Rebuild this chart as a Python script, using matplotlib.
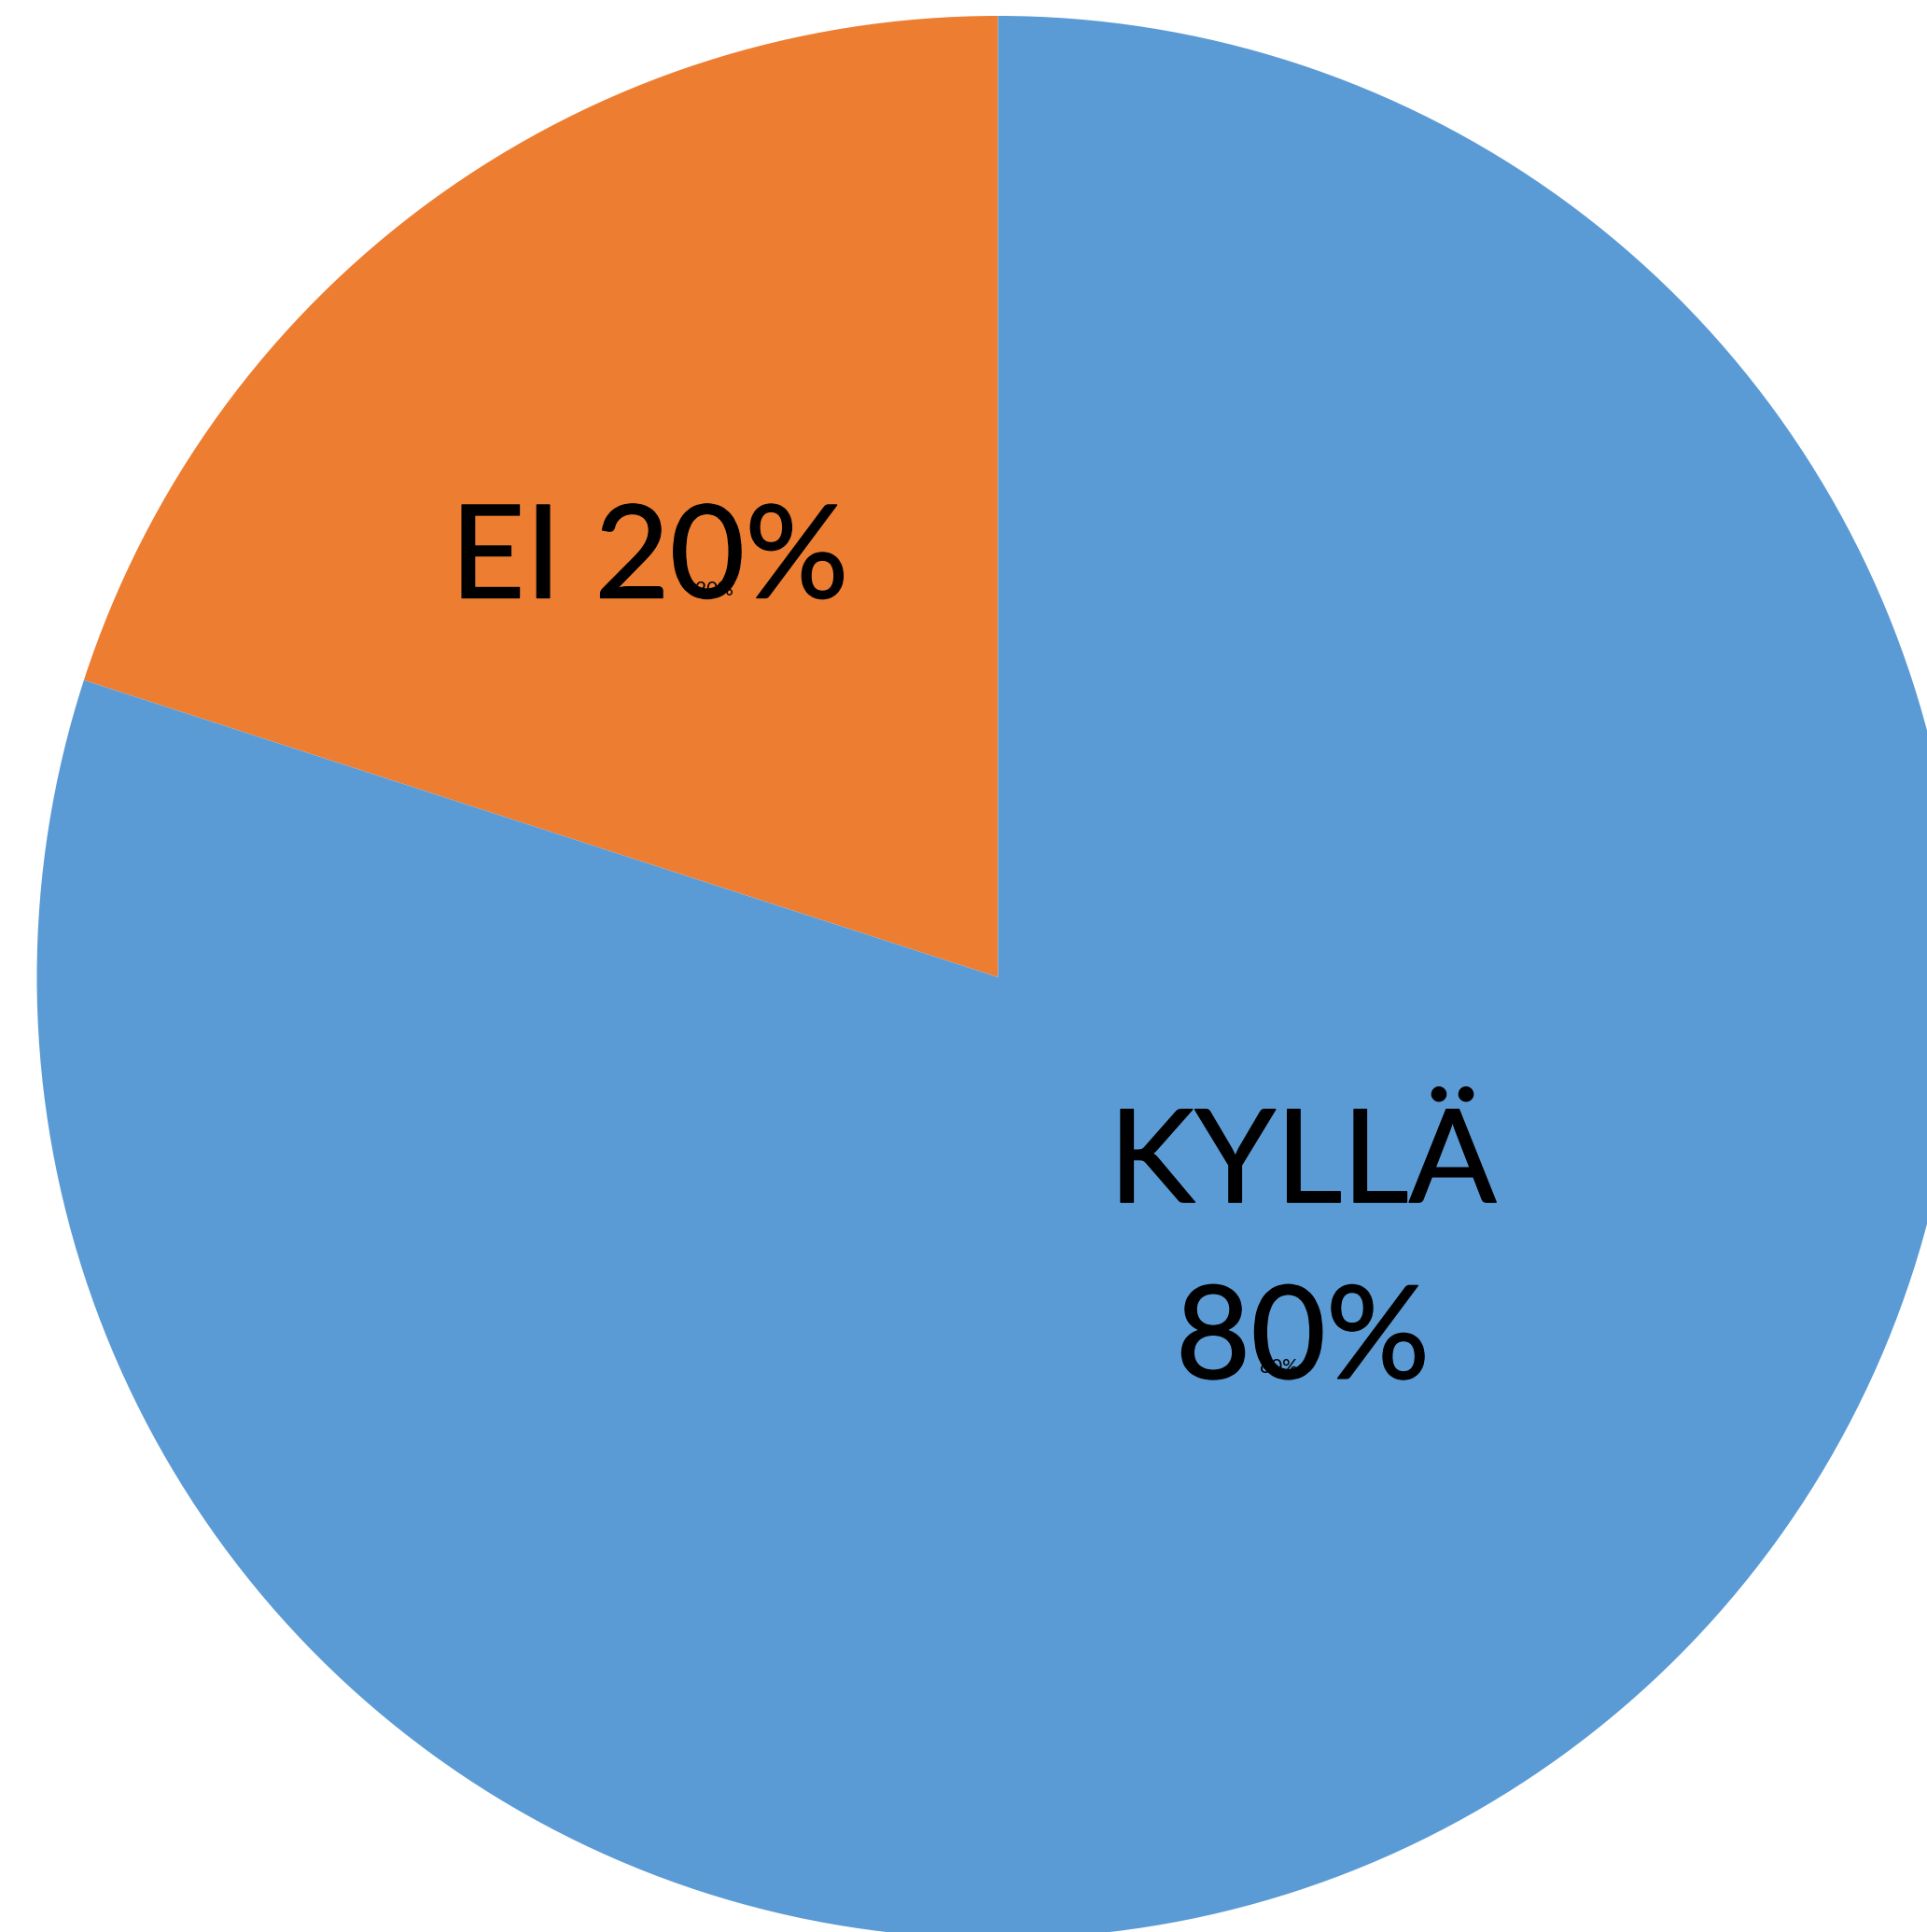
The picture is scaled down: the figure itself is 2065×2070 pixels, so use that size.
import matplotlib
matplotlib.use("Agg")
import matplotlib.pyplot as plt
import matplotlib.patheffects as pe

categories = ["EI", "KYLLÄ"]
values = [20, 80]
colors = ["#ED7D31", "#5B9BD5"]
big_labels = ["EI 20%", "KYLLÄ\n80%"]
small_labels = ["20%", "80%"]

W, H = 2065, 2070
fig = plt.figure(figsize=(W / 100, H / 100), dpi=100)
ax = fig.add_axes([0, 0, 1, 1])
ax.set_aspect("equal")

cx, cy, r = 1069.5, H - 1047, 1030
ax.pie(values, colors=colors, startangle=90, counterclock=True,
       center=(cx, cy), radius=r, wedgeprops=dict(linewidth=0),
       frame=True)
ax.set_xlim(0, W)
ax.set_ylim(0, H)
ax.axis("off")

font = ["Lato", "DejaVu Sans"]
thick = [pe.withStroke(linewidth=1.0, foreground="black")]
ax.text(696, H - 601, big_labels[0], fontsize=100, family=font,
        ha="center", va="center", path_effects=thick)
ax.text(1396, H - 1343, big_labels[1], fontsize=100, family=font,
        ha="center", va="center", linespacing=1.6, path_effects=thick)
ax.text(765, H - 632, small_labels[0], fontsize=15, family=font,
        ha="center", va="center")
ax.text(1370, H - 1465, small_labels[1], fontsize=15, family=font,
        ha="center", va="center")

fig.savefig("out.png", dpi=100)
